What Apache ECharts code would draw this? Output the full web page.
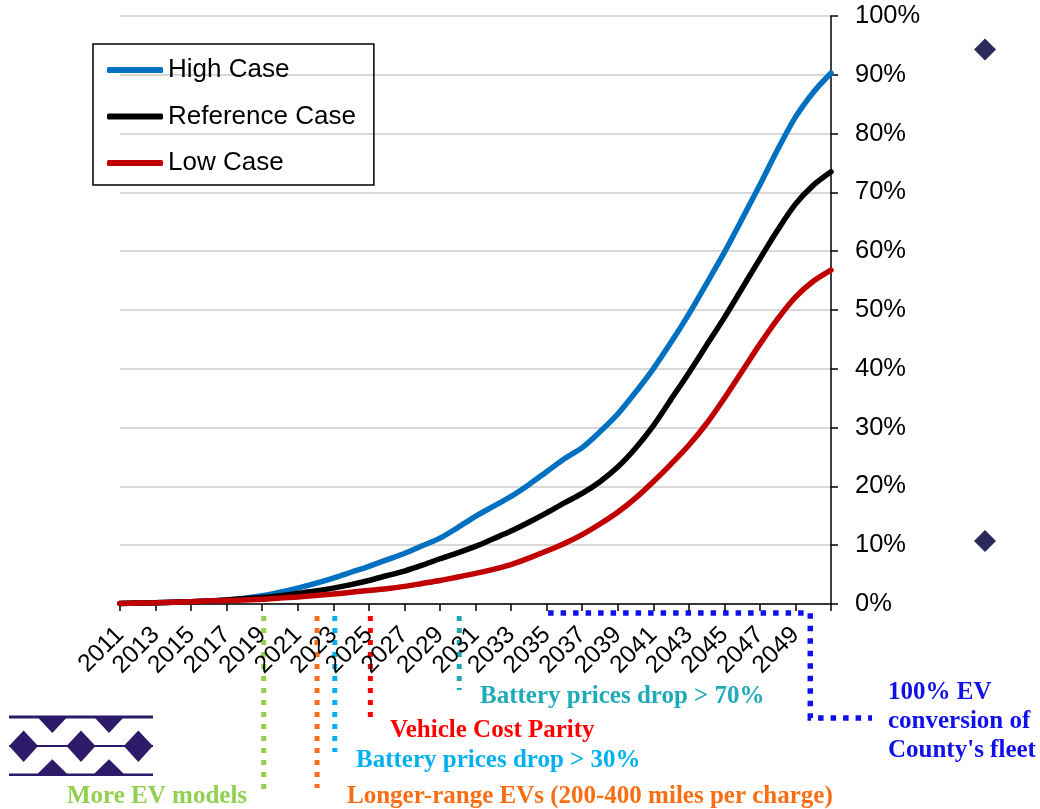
<!DOCTYPE html>
<html>
<head>
<meta charset="utf-8">
<script src="https://cdn.jsdelivr.net/npm/echarts@6/dist/echarts.min.js"></script>
<style>
html, body { margin: 0; padding: 0; background: #fff; }
#main { width: 1040px; height: 809px; }
</style>
</head>
<body>
<div id="main"></div>
<script>
// categories (years) and EV share of fleet, %
var years = ['2011','2012','2013','2014','2015','2016','2017','2018','2019','2020',
             '2021','2022','2023','2024','2025','2026','2027','2028','2029','2030',
             '2031','2032','2033','2034','2035','2036','2037','2038','2039','2040',
             '2041','2042','2043','2044','2045','2046','2047','2048','2049','2050','2051'];
var highCase = [0.1, 0.15, 0.2, 0.3, 0.4, 0.5, 0.7, 1.0, 1.4, 2.0,
                2.7, 3.5, 4.4, 5.4, 6.4, 7.5, 8.6, 9.9, 11.2, 13.0,
                14.9, 16.6, 18.3, 20.3, 22.5, 24.7, 26.6, 29.3, 32.3, 36.0,
                40.0, 44.5, 49.3, 54.5, 59.8, 65.5, 71.3, 77.3, 82.8, 87.0, 90.3];
var refCase = [0.1, 0.15, 0.2, 0.3, 0.4, 0.5, 0.7, 0.9, 1.1, 1.4,
               1.8, 2.2, 2.7, 3.3, 4.0, 4.8, 5.6, 6.6, 7.7, 8.7,
               9.8, 11.1, 12.4, 13.9, 15.5, 17.2, 18.8, 20.8, 23.3, 26.5,
               30.3, 34.8, 39.3, 44.0, 48.7, 53.7, 58.7, 63.6, 68.0, 71.2, 73.5];
var lowCase = [0.1, 0.15, 0.2, 0.3, 0.4, 0.5, 0.6, 0.7, 0.8, 1.0,
               1.2, 1.45, 1.7, 2.0, 2.3, 2.6, 3.0, 3.5, 4.0, 4.6,
               5.2, 5.9, 6.7, 7.8, 9.0, 10.3, 11.8, 13.6, 15.6, 18.0,
               20.8, 23.8, 27.0, 30.7, 35.0, 39.6, 44.2, 48.5, 52.2, 54.9, 56.8];
var seriesNames = ['High Case', 'Reference Case', 'Low Case'];
var sideMarkers = [94.3, 10.7];

var milestoneYears = [2019, 2022, 2023, 2025, 2030];
var milestoneLabels = ['More EV models', 'Longer-range EVs (200-400 miles per charge)',
                       'Battery prices drop > 30%', 'Vehicle Cost Parity', 'Battery prices drop > 70%'];
var fleetYears = [2035, 2049.75];
var fleetLabel = "100% EV\nconversion of\nCounty's fleet";

var chart = echarts.init(document.getElementById('main'));

var option = {
    animation: false,
    backgroundColor: '#fff',
    grid: [
        { left: 120, top: 16, right: 209, bottom: 205 },
        { left: 975, top: 16, width: 20, bottom: 205 }
    ],
    legend: {
        data: seriesNames,
        orient: 'vertical',
        left: 93,
        top: 44,
        padding: [13, 18, 9, 14],
        itemGap: 20.5,
        itemWidth: 56,
        itemHeight: 6,
        icon: 'roundRect',
        borderColor: '#000',
        borderWidth: 1.5,
        textStyle: { fontFamily: 'Liberation Sans', fontSize: 26, color: '#000' }
    },
    xAxis: [{
        type: 'category',
        data: years,
        boundaryGap: false,
        axisLine: { lineStyle: { color: '#000', width: 1.5 } },
        axisTick: { interval: 1, length: 7, lineStyle: { color: '#000', width: 1.5 } },
        axisLabel: {
            interval: 1,
            rotate: 45,
            margin: 27,
            showMinLabel: true,
            lineHeight: 20,
            fontFamily: 'Liberation Sans',
            fontSize: 24.5,
            color: '#000',
            formatter: function (v) { return v === '2051' ? '' : v; }
        },
        splitLine: { show: false }
    }, {
        gridIndex: 1, type: 'category', data: [''], show: false
    }],
    yAxis: [{
        type: 'value',
        position: 'right',
        min: 0,
        max: 100,
        interval: 10,
        axisLine: { show: true, lineStyle: { color: '#000', width: 1.5 } },
        axisTick: { show: true, length: 7, lineStyle: { color: '#000', width: 1.5 } },
        axisLabel: {
            margin: 24,
            fontFamily: 'Liberation Sans',
            fontSize: 25.5,
            color: '#000',
            formatter: '{value}%'
        },
        splitLine: { lineStyle: { color: '#D9D9D9', width: 2 } }
    }, {
        gridIndex: 1, type: 'value', min: 0, max: 100, show: false
    }],
    series: [
        { name: seriesNames[0], type: 'line', data: highCase, symbol: 'none', smooth: 0.3,
          itemStyle: { color: '#0070C0' }, lineStyle: { color: '#0070C0', width: 5.5, cap: 'round' } },
        { name: seriesNames[1], type: 'line', data: refCase, symbol: 'none', smooth: 0.3,
          itemStyle: { color: '#000' }, lineStyle: { color: '#000', width: 5.5, cap: 'round' } },
        { name: seriesNames[2], type: 'line', data: lowCase, symbol: 'none', smooth: 0.3,
          itemStyle: { color: '#C00000' }, lineStyle: { color: '#C00000', width: 5.5, cap: 'round' } },
        { type: 'scatter', xAxisIndex: 1, yAxisIndex: 1, symbol: 'diamond', symbolSize: 22,
          itemStyle: { color: '#2B2A5C', opacity: 1 },
          data: sideMarkers.map(function (v) { return [0, v]; }) }
    ]
};
chart.setOption(option);

// milestone annotations below the x axis
var x0 = chart.convertToPixel({ xAxisIndex: 0 }, 0);
var step = chart.convertToPixel({ xAxisIndex: 0 }, 1) - x0;
function yearX(y) { return x0 + (y - 2011) * step + 1.5; }

var noteLayout = [
    { color: '#92D050', bottom: 792, tx: 67, ty: 797 },
    { color: '#F96E12', bottom: 788, tx: 347, ty: 797 },
    { color: '#00B0F0', bottom: 752, tx: 356, ty: 761 },
    { color: '#FF0000', bottom: 721, tx: 390, ty: 731 },
    { color: '#1FAAB9', bottom: 690, tx: 480, ty: 697 }
];
var serif = 'Liberation Serif';
var graphics = [];
milestoneYears.forEach(function (yr, i) {
    var l = noteLayout[i];
    var x = yearX(yr);
    graphics.push({
        type: 'line',
        shape: { x1: x, y1: 616, x2: x, y2: l.bottom },
        style: { stroke: l.color, lineWidth: 5, lineDash: [5, 7] }
    });
    graphics.push({
        type: 'text',
        style: { text: milestoneLabels[i], x: l.tx, y: l.ty, fill: l.color,
                 fontFamily: serif, fontWeight: 'bold', fontSize: 25, verticalAlign: 'middle' }
    });
});
var fx1 = yearX(fleetYears[0]), fx2 = yearX(fleetYears[1]);
graphics.push({
    type: 'polyline',
    shape: { points: [[fx1, 613], [fx2, 613], [fx2, 718], [872, 718]] },
    style: { stroke: '#1010E8', lineWidth: 5.5, lineDash: [5.5, 7], fill: null }
});
graphics.push({
    type: 'text',
    style: { text: fleetLabel, x: 888, y: 678, fill: '#1010E8', lineHeight: 29,
             fontFamily: serif, fontWeight: 'bold', fontSize: 25, verticalAlign: 'top' }
});

// logo, bottom left
var logo = '#2D1B69';
graphics.push({ type: 'rect', shape: { x: 9, y: 715.5, width: 144, height: 3 }, style: { fill: logo } });
graphics.push({ type: 'rect', shape: { x: 9, y: 773.5, width: 144, height: 2.5 }, style: { fill: logo } });
graphics.push({ type: 'rect', shape: { x: 9, y: 745, width: 144, height: 2 }, style: { fill: logo } });
[52.3, 109].forEach(function (cx) {
    graphics.push({ type: 'polygon', shape: { points: [[cx - 14, 718], [cx + 14, 718], [cx, 733]] }, style: { fill: logo } });
    graphics.push({ type: 'polygon', shape: { points: [[cx - 15, 774], [cx + 15, 774], [cx, 759.3]] }, style: { fill: logo } });
});
[23.6, 81, 138.3].forEach(function (cx) {
    graphics.push({ type: 'polygon',
        shape: { points: [[cx - 14.5, 746], [cx, 730.5], [cx + 14.5, 746], [cx, 762]] },
        style: { fill: logo } });
});

chart.setOption({ graphic: graphics });
</script>
</body>
</html>
